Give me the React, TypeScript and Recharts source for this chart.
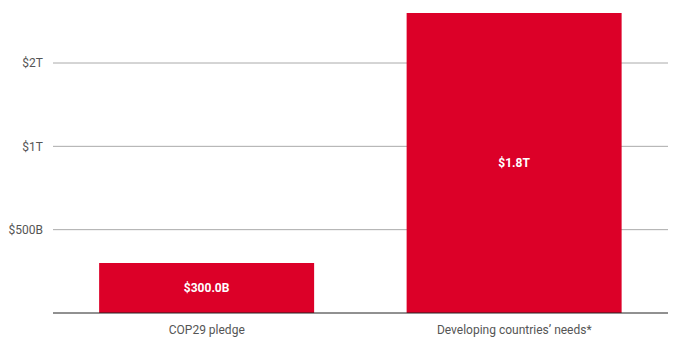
import React from "react";
import { BarChart, Bar, XAxis, YAxis, CartesianGrid, LabelList } from "recharts";

// values in billions of USD
const categories = ["COP29 pledge", "Developing countries\u2019 needs*"];
const amounts = [300, 1800];
const barLabels = ["$300.0B", "$1.8T"];
const yTicks = [500, 1000, 1500];
const yTickLabels = ["$500B", "$1T", "$2T"];

const data = categories.map((name, i) => ({ name, value: amounts[i], label: barLabels[i] }));

const font = "Roboto, 'Noto Sans', sans-serif";

const App: React.FC = () => {
  return (
    <div style={{ fontFamily: font }}>
      <BarChart
        width={662}
        height={340}
        data={data}
        margin={{ top: 5, right: 2, left: 1, bottom: 5 }}
        barCategoryGap="15%"
      >
        <CartesianGrid vertical={false} horizontalValues={yTicks} stroke="#aaaaaa" strokeWidth={1} />
        <XAxis
          dataKey="name"
          height={30}
          tickLine={false}
          axisLine={{ stroke: "#222222", strokeWidth: 1 }}
          tick={{ fill: "#555555", fontSize: 12, fontFamily: font }}
          tickMargin={6}
        />
        <YAxis
          width={44}
          domain={[0, 1800]}
          ticks={yTicks}
          axisLine={false}
          tickLine={false}
          tickMargin={4}
          tickFormatter={(v: number) => yTickLabels[yTicks.indexOf(v)] ?? ""}
          tick={{ fill: "#555555", fontSize: 12, fontFamily: font }}
        />
        <Bar dataKey="value" fill="#dc0028" isAnimationActive={false}>
          <LabelList
            dataKey="label"
            position="center"
            fill="#ffffff"
            fontSize={12}
            fontWeight="bold"
            fontFamily={font}
          />
        </Bar>
      </BarChart>
    </div>
  );
};

export default App;
